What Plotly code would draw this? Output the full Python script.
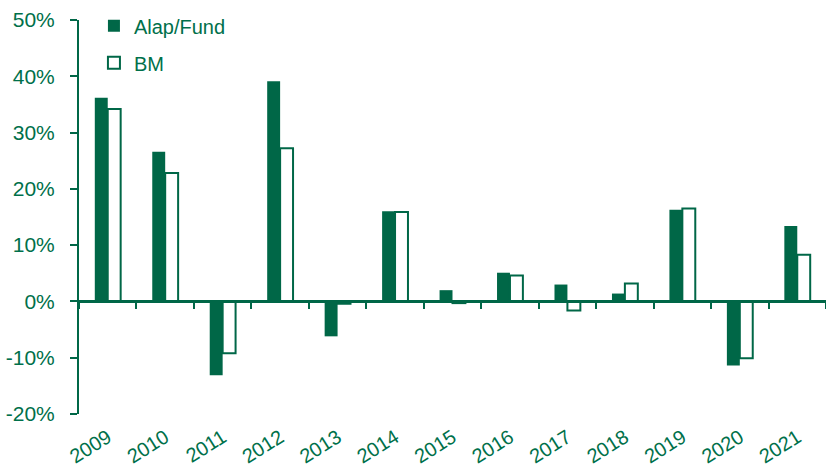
import plotly.graph_objects as go

years = ["2009", "2010", "2011", "2012", "2013", "2014", "2015", "2016",
         "2017", "2018", "2019", "2020", "2021"]
fund = [36.2, 26.6, -13.1, 39.1, -6.2, 16.0, 2.0, 5.1, 3.0, 1.4, 16.3, -11.4, 13.4]
bm = [34.2, 22.8, -9.2, 27.2, -0.4, 15.9, -0.3, 4.6, -1.6, 3.2, 16.5, -10.1, 8.3]
y_ticks = [-20, -10, 0, 10, 20, 30, 40, 50]
y_tick_labels = ["-20%", "-10%", "0%", "10%", "20%", "30%", "40%", "50%"]

GREEN = "#006747"
TXT = "#00704A"
YMIN, YMAX = -20, 50
FS = 21

fig = go.Figure()
fig.add_trace(go.Bar(name="Alap/Fund", x=years, y=fund, legendgroup="a",
                     marker=dict(color=GREEN, line=dict(color=GREEN, width=0))))
fig.add_trace(go.Bar(name="BM", x=years, y=bm, legendgroup="b",
                     marker=dict(color="white", line=dict(color=GREEN, width=2))))

zero_pos = (0 - YMIN) / (YMAX - YMIN)

fig.update_layout(
    width=826, height=470,
    margin=dict(l=79, r=0, t=20, b=56),
    paper_bgcolor="white", plot_bgcolor="white",
    font=dict(family="Liberation Sans, Arial", size=FS, color=TXT),
    barmode="group", bargap=0.55, bargroupgap=0,
    showlegend=True,
    legend=dict(x=0.02, y=1.035, xanchor="left", yanchor="top",
                bgcolor="rgba(0,0,0,0)", font=dict(size=FS - 1, color=TXT),
                tracegroupgap=8, itemwidth=30),
    xaxis=dict(type="category", categoryorder="array", categoryarray=years,
               showline=False, ticks="", tickangle=-32, showgrid=False,
               zeroline=False, ticklabelstandoff=7, automargin=False,
               tickfont=dict(size=20, color=TXT)),
    xaxis2=dict(type="category", categoryorder="array", categoryarray=years,
                matches="x", overlaying="x", anchor="free", position=zero_pos,
                showline=True, linecolor=GREEN, linewidth=2.5,
                ticks="outside", tickson="boundaries", ticklen=6, tickwidth=2,
                tickcolor=GREEN, showticklabels=False, showgrid=False),
    yaxis=dict(range=[YMIN, YMAX], tickmode="array", tickvals=y_ticks,
               ticktext=y_tick_labels, automargin=False,
               showline=True, linecolor=GREEN, linewidth=2,
               ticks="outside", ticklen=7, tickwidth=2, tickcolor=GREEN,
               showgrid=False, zeroline=False, ticklabelstandoff=11,
               tickfont=dict(size=FS, color=TXT)),
)
fig.add_trace(go.Scatter(x=years, y=[None]*len(years), xaxis="x2",
                         showlegend=False, hoverinfo="skip", mode="lines"))

fig.write_html("out.html")
